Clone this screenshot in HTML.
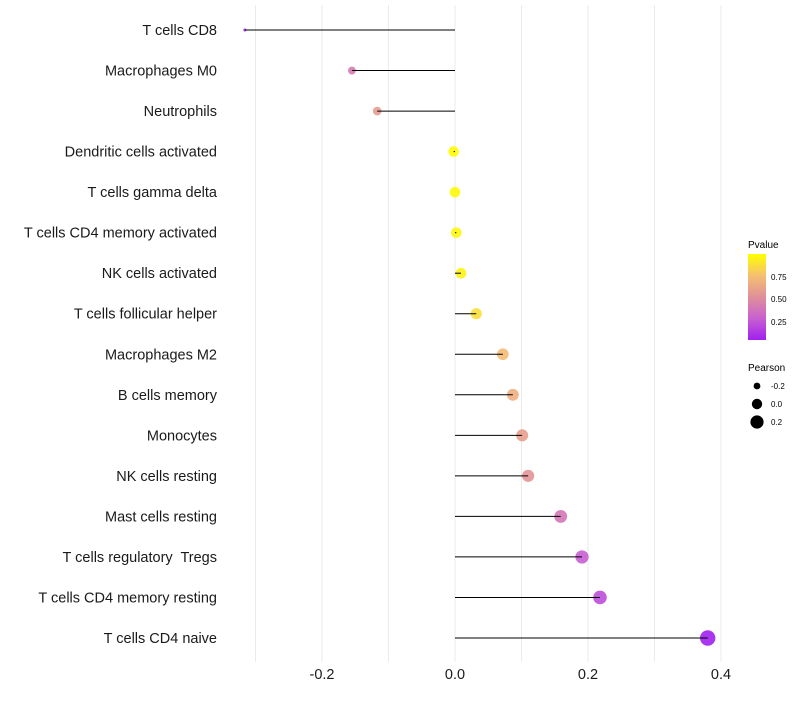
<!DOCTYPE html>
<html><head><meta charset="utf-8"><style>
body{margin:0;background:#fff;font-family:"Liberation Sans",sans-serif}
svg text{font-family:"Liberation Sans",sans-serif;white-space:pre}
</style></head><body>
<svg id="c" width="800" height="700">
<defs><linearGradient id="pg" x1="0" y1="1" x2="0" y2="0">
<stop offset="0" stop-color="#A020F0"/><stop offset="0.25" stop-color="#C860D0"/><stop offset="0.5" stop-color="#E0909A"/><stop offset="0.75" stop-color="#F5C070"/><stop offset="1" stop-color="#FFFF00"/></linearGradient></defs>
<g id="grid"></g><g id="pts"></g><g id="marks"></g><g id="ylab"></g><g id="xlab"></g>
<g>
<text x="748" y="248" font-size="10" fill="#000">Pvalue</text>
<rect x="748" y="254" width="18" height="86" fill="url(#pg)"/>
<text x="771" y="280" font-size="8">0.75</text><text x="771" y="302" font-size="8">0.50</text><text x="771" y="325" font-size="8">0.25</text>
</g>
<g>
<text x="748" y="371" font-size="10">Pearson</text>
<circle cx="757" cy="386" r="3.4"/><text x="771" y="389" font-size="8">-0.2</text>
<circle cx="757" cy="404" r="5.2"/><text x="771" y="407" font-size="8">0.0</text>
<circle cx="757" cy="422" r="6.6"/><text x="771" y="425" font-size="8">0.2</text>
</g>
</svg>
<script>
const categories=["T cells CD8","Macrophages M0","Neutrophils","Dendritic cells activated","T cells gamma delta","T cells CD4 memory activated","NK cells activated","T cells follicular helper","Macrophages M2","B cells memory","Monocytes","NK cells resting","Mast cells resting","T cells regulatory  Tregs","T cells CD4 memory resting","T cells CD4 naive"];
const pearson=[-0.316,-0.155,-0.117,-0.002,0.0,0.002,0.009,0.032,0.072,0.087,0.101,0.110,0.159,0.191,0.218,0.380];
const pvalue=[0.08,0.42,0.58,0.99,0.98,0.97,0.95,0.88,0.74,0.68,0.60,0.55,0.40,0.28,0.22,0.05];
const xticks=[-0.2,0.0,0.2,0.4];
const xgrid=[-0.3,-0.2,-0.1,0,0.1,0.2,0.3,0.4];
const NS="http://www.w3.org/2000/svg";
const X=v=>455+v*665;
const Y=i=>30+i*(608/15);
const R=v=>Math.sqrt(Math.max(1.5,2.25+82*(v+0.316)));
const stops=[[160,32,240],[200,96,208],[224,144,154],[245,192,112],[255,255,0]];
function col(p){let t=Math.max(0,Math.min(1,(p-0.05)/0.95))*4;const k=Math.min(3,Math.floor(t)),f=t-k;
 const a=stops[k],b=stops[k+1];return `rgb(${a.map((c,j)=>Math.round(c+(b[j]-c)*f)).join(',')})`;}
function mk(tag,attrs,parent){const e=document.createElementNS(NS,tag);for(const k in attrs)e.setAttribute(k,attrs[k]);document.getElementById(parent).appendChild(e);return e;}
xgrid.forEach(v=>{const l=mk('line',{x1:X(v),x2:X(v),y1:5,y2:662,stroke:'#ebebeb','stroke-width':1},'grid');

});
categories.forEach((c,i)=>{
 const t=mk('text',{x:217,y:Y(i)+5,'text-anchor':'end','font-size':14.5,fill:'#1a1a1a'},'ylab');t.textContent=c;
 
 
 const p=mk('circle',{cx:X(pearson[i]),cy:Y(i),r:R(pearson[i]),fill:col(pvalue[i]),'fill-opacity':0.9},'pts');
 
 
 const l=mk('line',{x1:X(0),x2:X(pearson[i]),y1:Y(i),y2:Y(i),stroke:'#000','stroke-width':1},'marks');
 
 
});
xticks.forEach(v=>{const t=mk('text',{x:X(v),y:679,'text-anchor':'middle','font-size':14.5,fill:'#1a1a1a'},'xlab');t.textContent=v.toFixed(1);

});
</script>
</body></html>
